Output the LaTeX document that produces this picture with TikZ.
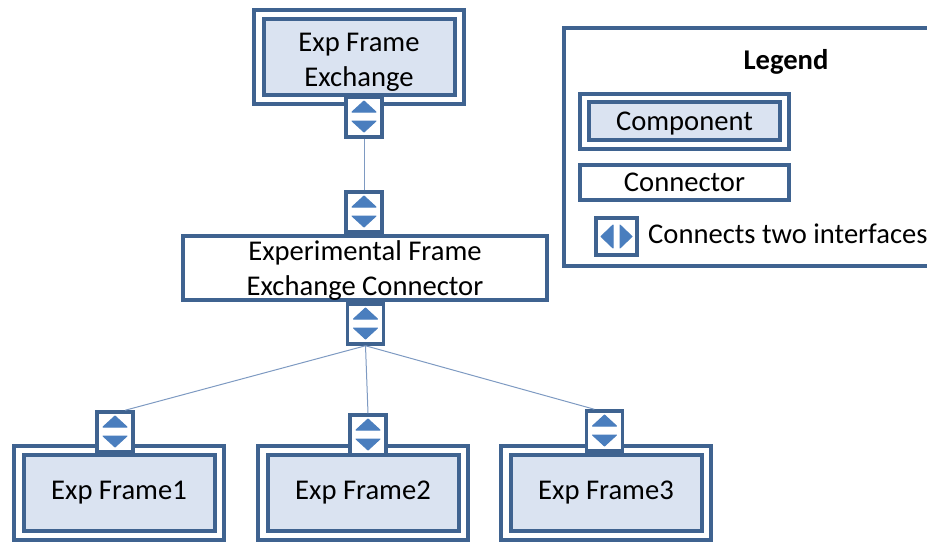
\documentclass[tikz,border=0pt]{standalone}
\usepackage{fontspec}
\setmainfont{Carlito}
\usepackage{tikz}
\definecolor{bluedark}{HTML}{3F6390}
\definecolor{bluefill}{HTML}{DAE3F1}
\definecolor{bluetri}{HTML}{4A7EBE}
\definecolor{blueline}{HTML}{7E9AC2}
\tikzset{
  lbl/.style={font=\fontsize{28.6}{35}\selectfont, align=center, inner sep=0pt},
  compouter/.style={draw=bluedark, line width=3.5pt, fill=white, minimum width=210pt, minimum height=94pt, inner sep=0pt},
  compinner/.style={lbl, draw=bluedark, line width=4pt, fill=bluefill, minimum width=191pt, minimum height=76pt},
  conn/.style={lbl, draw=bluedark, line width=4pt, fill=white},
  port/.style={draw=bluedark, line width=3.5pt, fill=white, minimum width=36pt, minimum height=40pt, inner sep=0pt},
  tri/.style={fill=bluetri, draw=bluetri, line width=1pt, line join=round},
  wire/.style={draw=blueline, line width=1pt},
}
\newcommand{\portv}[3]{
  \node[port] (#1) at (#2,#3) {};
  \path[tri,shift={(#2,#3)}] (-12,-5) -- (0,-16) -- (12,-5) -- cycle;
  \path[tri,shift={(#2,#3)}] (-12,4) -- (0,15) -- (12,4) -- cycle;
}
\begin{document}
\begin{tikzpicture}[x=1pt,y=-1pt]
      \clip (0,0) rectangle (927,542);

      \node[compouter] (topouter) at (359,57) {};
      \node[compinner] (topinner) at (359,57) {};
      \node[lbl] (toptext) at (359,62) {Exp Frame\\Exchange};
      \portv{porttop}{364}{117}

      \portv{portconnup}{364}{212}
      \node[conn, minimum width=364pt, minimum height=64pt] (exchconn) at (365,268) {};
      \node[lbl] (exchtext) at (365,271) {Experimental Frame\\Exchange Connector};
      \portv{portconndown}{365.5}{324}

      \node[compouter] (frameAouter) at (119,493) {};
      \node[compinner] (frameA) at (119,493) {Exp Frame1};
      \portv{portA}{115}{432}

      \node[compouter] (frameBouter) at (363,493) {};
      \node[compinner] (frameB) at (363,493) {Exp Frame2};
      \portv{portB}{368}{435}

      \node[compouter] (frameCouter) at (606,493) {};
      \node[compinner] (frameC) at (606,493) {Exp Frame3};
      \portv{portC}{604.5}{431}

      \draw[wire] (porttop) -- (portconnup);
      \draw[wire] (portconndown.south) -- (portA.65);
      \draw[wire] (portconndown.south) -- (portB.north);
      \draw[wire] (portconndown.south) -- (portC.115);

      % legend
      \node[draw=bluedark, line width=3.5pt, fill=white, minimum width=376pt, minimum height=238pt, inner sep=0pt] (legend) at (752,147) {};
      \node[lbl, font=\fontsize{28.6}{35}\selectfont\bfseries] (legendtitle) at (786,62) {Legend};
      \node[compouter, minimum width=209pt, minimum height=55pt] (legcompouter) at (684.5,121.5) {};
      \node[compinner, minimum width=191pt, minimum height=38pt] (legcomp) at (684.5,121) {};
      \node[lbl] (legcomptext) at (684.5,124) {Component};
      \node[conn, minimum width=209pt, minimum height=35pt] (legconn) at (684.5,182.5) {Connector};
      \node[port, minimum width=41pt, minimum height=37pt] (legport) at (616.5,236.5) {};
      \path[tri] (613,225) -- (601,236.5) -- (613,248) -- cycle;
      \path[tri] (620,225) -- (632,236.5) -- (620,248) -- cycle;
      \node[lbl, anchor=west] (legporttext) at (648,234) {Connects two interfaces};
    \end{tikzpicture}
\end{document}
